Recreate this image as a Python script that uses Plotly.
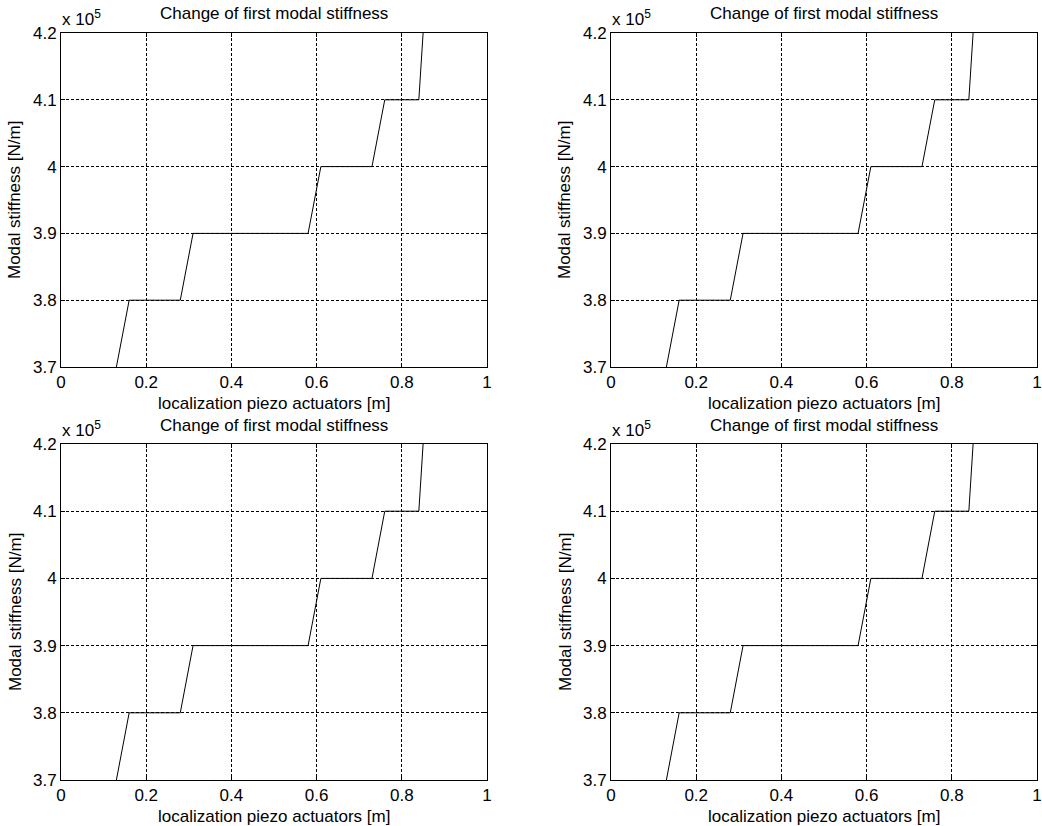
import plotly.graph_objects as go

# Data (x in m, y in units of 1e5 N/m)
loc_x = [0.13, 0.16, 0.28, 0.31, 0.58, 0.61, 0.73, 0.76, 0.84, 0.85]
stiff_y = [3.7, 3.8, 3.8, 3.9, 3.9, 4.0, 4.0, 4.1, 4.1, 4.2]

x_ticks = [0, 0.2, 0.4, 0.6, 0.8, 1]
x_ticktext = ["0", "0.2", "0.4", "0.6", "0.8", "1"]
y_ticks = [3.7, 3.8, 3.9, 4.0, 4.1, 4.2]
y_ticktext = ["3.7", "3.8", "3.9", "4", "4.1", "4.2"]

title_text = "Change of first modal stiffness"
xlabel_text = "localization piezo actuators [m]"
ylabel_text = "Modal stiffness [N/m]"

W, H = 1042, 826
FONT = "Liberation Sans, Arial, Helvetica, sans-serif"
FS = 17

# panel pixel boxes (left, right, top, bottom)
panels = [
    (61, 487, 33, 367),
    (611, 1037, 33, 367),
    (61, 487, 444, 780),
    (611, 1037, 444, 780),
]

fig = go.Figure()
annotations = []
layout = {}

for i, (l, r, t, b) in enumerate(panels):
    n = i + 1
    xa = "xaxis" if n == 1 else f"xaxis{n}"
    ya = "yaxis" if n == 1 else f"yaxis{n}"
    xref = "x" if n == 1 else f"x{n}"
    yref = "y" if n == 1 else f"y{n}"
    fig.add_trace(go.Scatter(x=loc_x, y=stiff_y, mode="lines",
                             line=dict(color="black", width=1),
                             xaxis=xref, yaxis=yref, showlegend=False,
                             hoverinfo="skip"))
    common = dict(showline=True, linecolor="black", linewidth=1, mirror="ticks",
                  ticks="inside", ticklen=4, tickcolor="black", automargin=False,
                  showgrid=True, gridcolor="black", gridwidth=1, griddash="3px,2px",
                  zeroline=False, tickfont=dict(family=FONT, size=FS, color="black"),
                  fixedrange=True)
    layout[xa] = dict(domain=[l / W, r / W], range=[0, 1], anchor=yref,
                      tickvals=x_ticks, ticktext=x_ticktext, **common)
    layout[ya] = dict(domain=[1 - b / H, 1 - t / H], range=[3.7, 4.2], anchor=xref,
                      tickvals=y_ticks, ticktext=y_ticktext, **common)
    cx = (l + r) / 2 / W
    # title
    annotations.append(dict(text=title_text, x=cx, y=1 - (t - 19) / H, xref="paper", yref="paper",
                            xanchor="center", yanchor="middle", showarrow=False,
                            font=dict(family=FONT, size=FS, color="black")))
    # exponent
    annotations.append(dict(text="x 10<sup><span style='font-size:12px'>5</span></sup>",
                            x=(l - 1) / W, y=1 - (t - 2) / H,
                            xref="paper", yref="paper", xanchor="left", yanchor="bottom",
                            showarrow=False, font=dict(family=FONT, size=FS, color="black")))
    # x label
    annotations.append(dict(text=xlabel_text, x=cx, y=1 - (b + 36) / H, xref="paper", yref="paper",
                            xanchor="center", yanchor="middle", showarrow=False,
                            font=dict(family=FONT, size=FS, color="black")))
    # y label
    annotations.append(dict(text=ylabel_text, x=(l - 46) / W, y=1 - (t + b) / 2 / H,
                            xref="paper", yref="paper", xanchor="center", yanchor="middle",
                            textangle=-90, showarrow=False,
                            font=dict(family=FONT, size=FS, color="black")))

fig.update_layout(template="none", width=W, height=H, margin=dict(l=0, r=0, t=0, b=0),
                  paper_bgcolor="white", plot_bgcolor="white",
                  annotations=annotations, **layout)

fig.write_html("out.html")
